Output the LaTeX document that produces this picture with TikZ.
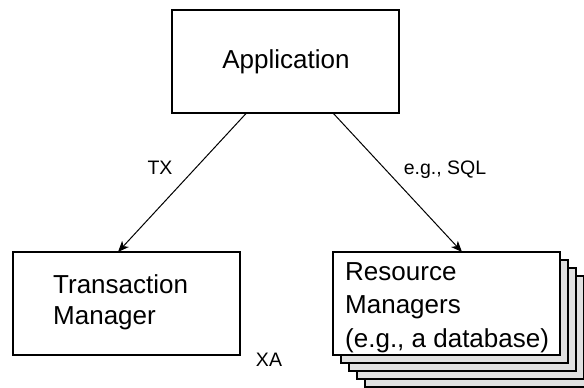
\documentclass[tikz,border=0pt]{standalone}
\usepackage{fontspec}
\setmainfont{Liberation Sans}
\usetikzlibrary{arrows.meta}
\begin{document}
\begin{tikzpicture}[x=1pt,y=-1pt,
  box/.style={draw=black,line width=2pt,fill=white},
  backbox/.style={draw=black,line width=1.3pt,fill=black!12},
  boxtext/.style={font=\fontsize{26}{31}\selectfont,inner sep=0pt},
  lbl/.style={font=\fontsize{19.5}{22}\selectfont,inner sep=0pt},
  link/.style={line width=1pt,-{Stealth[length=11pt,width=9pt,inset=3pt]}}]
\useasboundingbox (0,0) rectangle (584,388);
% stacked resource managers, back to front
\foreach \k in {4,3,2,1}{
  \draw[backbox] (333+8*\k,252+8*\k) rectangle (560+8*\k,355+8*\k);
}
\draw[box] (333,252) rectangle (560,355);
\coordinate (rmtop) at (462,252);
\node[boxtext,anchor=north west,align=left] (rm) at (345,262)
  {Resource\\[2.5pt]Managers\\[2.5pt](e.g., a database)};
% application
\draw[box] (172,10) rectangle (399,113);
\node[boxtext] (app) at (286,62) {Application};
\coordinate (appl) at (246.5,113);
\coordinate (appr) at (333,113);
% transaction manager
\draw[box] (13,252) rectangle (240,355);
\coordinate (tmtop) at (118,252);
\node[boxtext,anchor=north west,align=left] (tm) at (53,274) {Transaction\\Manager};
% connectors
\draw[link] (appl) -- (tmtop);
\draw[link] (appr) -- (rmtop);
\node[lbl] (tx) at (160,168) {TX};
\node[lbl] (sql) at (445,170) {e.g., SQL};
\node[lbl] (xa) at (269,360) {XA};
\end{tikzpicture}
\end{document}
